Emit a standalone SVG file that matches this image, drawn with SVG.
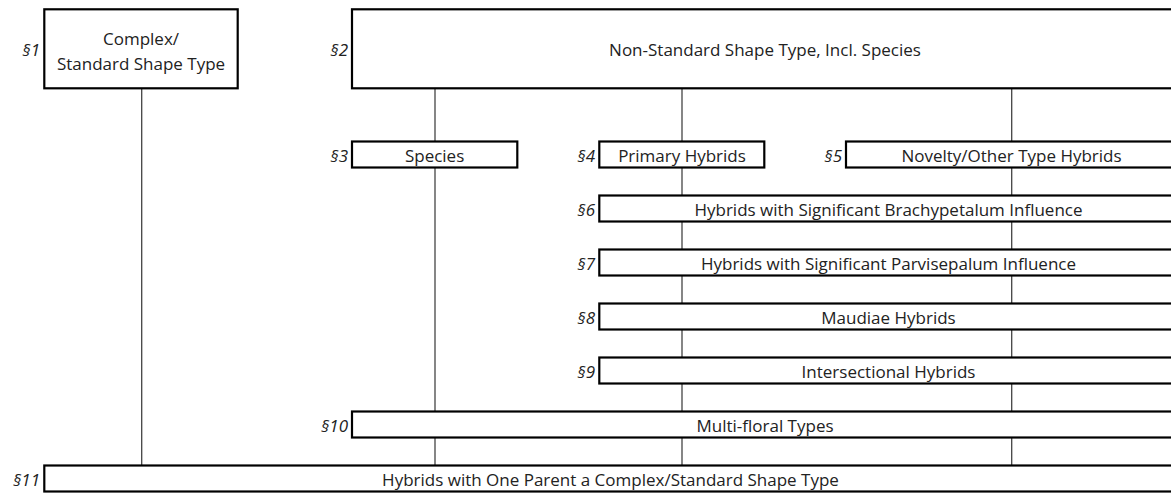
<svg xmlns="http://www.w3.org/2000/svg" width="1171" height="493" viewBox="0 0 1171 493">
<style>
.box{fill:#fff;stroke:#000;stroke-width:2.2}
.conn{stroke:#444;stroke-width:1.3;fill:none}
.t{font-family:"Open Sans","Liberation Sans",sans-serif;font-size:17px;fill:#222;text-anchor:middle}
.s{font-family:"Open Sans","Liberation Sans",sans-serif;font-size:17px;font-style:italic;fill:#222;text-anchor:end}
</style>
<rect width="1171" height="493" fill="#fff"/>
<g id="connectors">
<line class="conn" x1="141.7" y1="88" x2="141.7" y2="467"/>
<line class="conn" x1="435" y1="88" x2="435" y2="467"/>
<line class="conn" x1="682" y1="88" x2="682" y2="467"/>
<line class="conn" x1="1011.7" y1="88" x2="1011.7" y2="467"/>
</g>
<g id="n1"><rect class="box" x="44.3" y="9.3" width="193.4" height="79"/><text class="t" x="141" y="44.5">Complex/</text><text class="t" x="141" y="69.5">Standard Shape Type</text><text class="s" x="40" y="56">§1</text></g>
<g id="n2"><rect class="box" x="352" y="9.3" width="825" height="79"/><text class="t" x="765" y="56">Non-Standard Shape Type, Incl. Species</text><text class="s" x="348" y="56">§2</text></g>
<g id="n3"><rect class="box" x="352" y="141.5" width="165.3" height="26"/><text class="t" x="434.6" y="161.5">Species</text><text class="s" x="348" y="161.5">§3</text></g>
<g id="n4"><rect class="box" x="599.3" y="141.5" width="165" height="26"/><text class="t" x="682" y="161.5">Primary Hybrids</text><text class="s" x="595" y="161.5">§4</text></g>
<g id="n5"><rect class="box" x="846" y="141.5" width="331" height="26"/><text class="t" x="1011.5" y="161.5">Novelty/Other Type Hybrids</text><text class="s" x="842" y="161.5">§5</text></g>
<g id="n6"><rect class="box" x="599.3" y="195.5" width="578" height="26"/><text class="t" x="888.5" y="215.5">Hybrids with Significant Brachypetalum Influence</text><text class="s" x="595" y="215.5">§6</text></g>
<g id="n7"><rect class="box" x="599.3" y="249.5" width="578" height="26"/><text class="t" x="888.5" y="269.5">Hybrids with Significant Parvisepalum Influence</text><text class="s" x="595" y="269.5">§7</text></g>
<g id="n8"><rect class="box" x="599.3" y="303.5" width="578" height="26"/><text class="t" x="888.5" y="323.5">Maudiae Hybrids</text><text class="s" x="595" y="323.5">§8</text></g>
<g id="n9"><rect class="box" x="599.3" y="357.5" width="578" height="26"/><text class="t" x="888.5" y="377.5">Intersectional Hybrids</text><text class="s" x="595" y="377.5">§9</text></g>
<g id="n10"><rect class="box" x="352" y="411.5" width="825" height="26"/><text class="t" x="765" y="431.5">Multi-floral Types</text><text class="s" x="348" y="431.5">§10</text></g>
<g id="n11"><rect class="box" x="44.3" y="465.5" width="1133" height="26"/><text class="t" x="610.5" y="485.5">Hybrids with One Parent a Complex/Standard Shape Type</text><text class="s" x="40" y="485.5">§11</text></g>
</svg>
